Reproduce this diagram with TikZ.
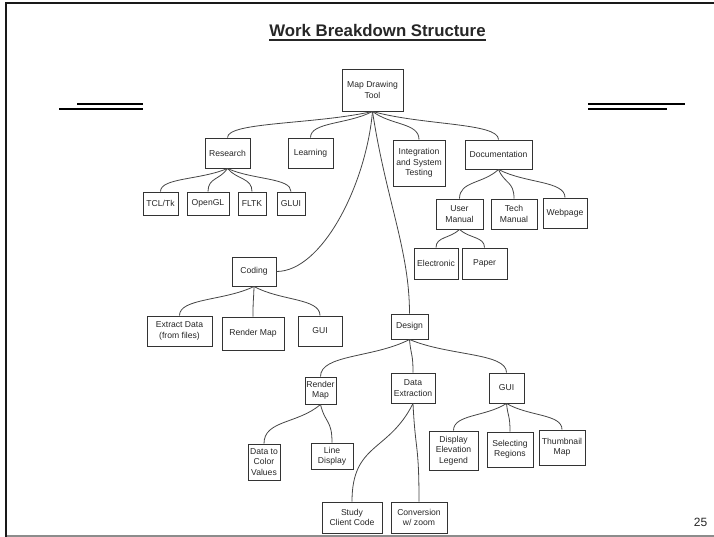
\documentclass[tikz,border=0pt]{standalone}
\usepackage{fontspec}
\setmainfont{Liberation Sans}
\usetikzlibrary{calc}
\definecolor{boxc}{HTML}{333333}
\definecolor{textc}{HTML}{262626}
\definecolor{linec}{HTML}{454545}
\definecolor{framegray}{HTML}{8C8C8C}
\begin{document}
\begin{tikzpicture}[x=1pt,y=1pt,
  box/.style={draw=boxc, line width=0.95pt, align=center, inner sep=1pt,
    font=\fontsize{8.6}{10.4}\selectfont, text=textc},
  wbs/.style={to path={let \p1=(\tikztostart), \p2=(\tikztotarget) in
    .. controls ({\x1+0.4*(\x2-\x1)},{0.5*\y1+0.5*\y2}) and (\x2,{0.6*\y1+0.4*\y2}) .. (\tikztotarget) \tikztonodes}},
  conn/.style={draw=linec, line width=0.8pt},
  deco/.style={line width=2pt, black}]
\useasboundingbox (0,0) rectangle (714,-537);
% slide frame
\draw[line width=2.4pt, black!90] (6.2,-537) -- (6.2,-3) -- (714,-3);
\draw[line width=1.3pt, framegray] (7,-536) -- (714,-536);
% title
\node[anchor=base, inner sep=0pt, font=\fontsize{16.8}{20}\selectfont\bfseries, text=textc] (title) at (377.5,-36.5) {Work Breakdown Structure};
\draw[line width=1.3pt, textc] ([yshift=-3.6pt]title.base west) -- ([yshift=-3.6pt]title.base east);
% decorative lines
\draw[deco] (77,-103.7) -- (143,-103.7);
\draw[deco] (59,-109) -- (143,-109);
\draw[deco] (588,-103.7) -- (685,-103.7);
\draw[deco] (588,-109) -- (667,-109);
% page number
\node[anchor=base, inner sep=0pt, font=\fontsize{12}{14}\selectfont, text=textc] (pnum) at (700.5,-526.5) {25};
% nodes
\node[box,minimum width=61pt,minimum height=42pt] (map) at (372.5,-90) {Map Drawing\\Tool};
\node[box,minimum width=45pt,minimum height=30pt] (research) at (227.5,-153) {Research};
\node[box,minimum width=45pt,minimum height=30pt] (learning) at (310.5,-153) {Learning};
\node[box,minimum width=52pt,minimum height=46pt] (integ) at (419,-163) {Integration\\and System\\Testing};
\node[box,minimum width=67pt,minimum height=29pt] (doc) at (498.5,-154.5) {Documentation};
\node[box,minimum width=35pt,minimum height=23pt] (tcl) at (160.5,-203.5) {TCL/Tk};
\node[box,minimum width=42pt,minimum height=23pt] (opengl) at (208,-203.5) {OpenGL};
\node[box,minimum width=28pt,minimum height=23pt] (fltk) at (252,-203.5) {FLTK};
\node[box,minimum width=28pt,minimum height=23pt] (glui) at (291,-203.5) {GLUI};
\node[box,minimum width=47pt,minimum height=30pt] (user) at (459.5,-214) {User\\Manual};
\node[box,minimum width=46pt,minimum height=30pt] (tech) at (514,-214) {Tech\\Manual};
\node[box,minimum width=44pt,minimum height=30pt] (web) at (565,-213) {Webpage};
\node[box,minimum width=44pt,minimum height=31pt] (elec) at (436,-263.5) {Electronic};
\node[box,minimum width=45pt,minimum height=31pt] (paper) at (484.5,-263.5) {Paper};
\node[box,minimum width=44pt,minimum height=29pt] (coding) at (254,-271.5) {Coding};
\node[box,minimum width=65pt,minimum height=30pt] (extract) at (179.5,-331) {Extract Data\\(from files)};
\node[box,minimum width=62pt,minimum height=33pt] (render) at (253,-333.5) {Render Map};
\node[box,minimum width=44pt,minimum height=30pt] (gui) at (320,-331) {GUI};
\node[box,minimum width=37pt,minimum height=25pt] (design) at (409.5,-326.5) {Design};
\node[box,minimum width=31pt,minimum height=27pt] (rendertwo) at (320.5,-390.5) {Render\\Map};
\node[box,minimum width=44pt,minimum height=30pt] (dataext) at (413,-388) {Data\\Extraction};
\node[box,minimum width=35pt,minimum height=30pt] (guitwo) at (506.5,-388) {GUI};
\node[box,minimum width=49pt,minimum height=39pt] (display) at (453.5,-450.5) {Display\\Elevation\\Legend};
\node[box,minimum width=46pt,minimum height=35pt] (select) at (510,-449.5) {Selecting\\Regions};
\node[box,minimum width=46pt,minimum height=35pt] (thumb) at (562,-447.5) {Thumbnail\\Map};
\node[box,minimum width=32pt,minimum height=36pt] (color) at (264,-462) {Data to\\Color\\Values};
\node[box,minimum width=42pt,minimum height=26pt] (line) at (332,-456) {Line\\Display};
\node[box,minimum width=60pt,minimum height=31pt] (study) at (352,-517.5) {Study\\Client Code};
\node[box,minimum width=56pt,minimum height=31pt] (conv) at (419,-517.5) {Conversion\\w/ zoom};
% connectors
\draw[conn] (map.south) to[wbs] (research.north);
\draw[conn] (map.south) to[wbs] (learning.north);
\draw[conn] (map.south) to[wbs] (integ.north);
\draw[conn] (map.south) to[wbs] (doc.north);
\draw[conn] (map.south) .. controls (366,-185) and (322,-271.5) .. (coding.east);
\draw[conn] (map.south) .. controls (386,-200) and (409.5,-250) .. (design.north);
\draw[conn] (research.south) to[wbs] (tcl.north);
\draw[conn] (research.south) to[wbs] (opengl.north);
\draw[conn] (research.south) to[wbs] (fltk.north);
\draw[conn] (research.south) to[wbs] (glui.north);
\draw[conn] (doc.south) to[wbs] (user.north);
\draw[conn] (doc.south) to[wbs] (tech.north);
\draw[conn] (doc.south) to[wbs] (web.north);
\draw[conn] (user.south) to[wbs] (elec.north);
\draw[conn] (user.south) to[wbs] (paper.north);
\draw[conn] (coding.south) to[wbs] (extract.north);
\draw[conn] (coding.south) to[wbs] (render.north);
\draw[conn] (coding.south) to[wbs] (gui.north);
\draw[conn] (design.south) to[wbs] (rendertwo.north);
\draw[conn] (design.south) to[wbs] (dataext.north);
\draw[conn] (design.south) to[wbs] (guitwo.north);
\draw[conn] (rendertwo.south) to[wbs] (color.north);
\draw[conn] (rendertwo.south) to[wbs] (line.north);
\draw[conn] (dataext.south) to[wbs] (study.north);
\draw[conn] (dataext.south) to[wbs] (conv.north);
\draw[conn] (guitwo.south) to[wbs] (display.north);
\draw[conn] (guitwo.south) to[wbs] (select.north);
\draw[conn] (guitwo.south) to[wbs] (thumb.north);
\end{tikzpicture}
\end{document}
